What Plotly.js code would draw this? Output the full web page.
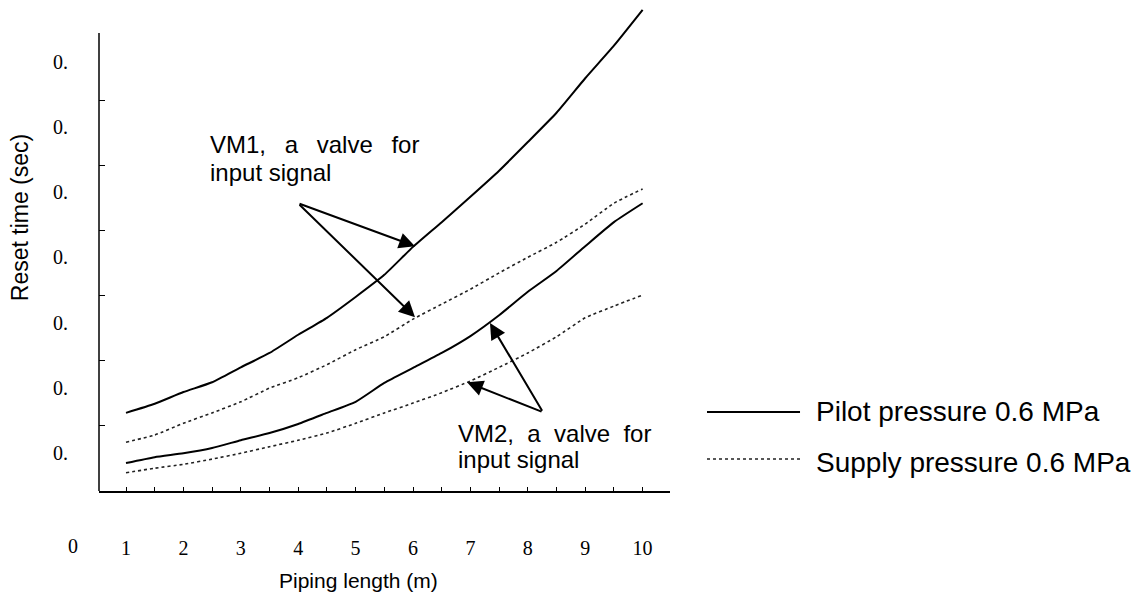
<!DOCTYPE html>
<html>
<head>
<meta charset="utf-8">
<script src="https://cdn.plot.ly/plotly-3.0.1.min.js"></script>
<style>html,body{margin:0;padding:0;background:#fff;}#chart{width:1144px;height:599px;}</style>
</head>
<body>
<div id="chart"></div>
<script>
// ---- data ----
const pipingLength = [1, 1.5, 2, 2.5, 3, 3.5, 4, 4.5, 5, 5.5, 6, 6.5, 7, 7.5, 8, 8.5, 9, 9.5, 10];
const vm1Pilot  = [0.120, 0.134, 0.152, 0.167, 0.190, 0.212, 0.240, 0.266, 0.298, 0.332, 0.375, 0.413, 0.452, 0.492, 0.536, 0.581, 0.634, 0.684, 0.739];
const vm1Supply = [0.075, 0.086, 0.104, 0.120, 0.137, 0.158, 0.174, 0.194, 0.217, 0.237, 0.264, 0.287, 0.310, 0.335, 0.359, 0.382, 0.410, 0.442, 0.464];
const vm2Pilot  = [0.043, 0.052, 0.058, 0.066, 0.078, 0.089, 0.103, 0.120, 0.137, 0.166, 0.189, 0.212, 0.238, 0.270, 0.306, 0.338, 0.376, 0.413, 0.442];
const vm2Supply = [0.028, 0.035, 0.041, 0.049, 0.058, 0.068, 0.078, 0.089, 0.104, 0.120, 0.135, 0.151, 0.169, 0.190, 0.212, 0.237, 0.266, 0.284, 0.301];

const xTickVals = [1, 2, 3, 4, 5, 6, 7, 8, 9, 10];
const xTickText = ['1', '2', '3', '4', '5', '6', '7', '8', '9', '10'];
const yTickVals = [0.1, 0.2, 0.3, 0.4, 0.5, 0.6];
const yLabelVals = [0.058, 0.158, 0.258, 0.359, 0.459, 0.559, 0.659];
const yLabelText = ['0.', '0.', '0.', '0.', '0.', '0.', '0.'];
const yZeroLabel = '0';
const yAxisTop = 0.7035;

const seriesNames = ['Pilot pressure 0.6 MPa', 'Supply pressure 0.6 MPa'];
const xTitle = 'Piping length (m)';
const yTitle = 'Reset time (sec)';
const vm1Label = ['VM1,\u00a0\u2002a\u00a0\u2002valve\u00a0\u2002for', 'input signal'];
const vm2Label = ['VM2,\u00a0\u00a0a\u00a0\u00a0valve\u00a0\u00a0for', 'input signal'];

// ---- styles ----
const SANS = 'Liberation Sans, Arial, sans-serif';
const SERIF = 'Liberation Serif, Times New Roman, serif';
const solid = {color: '#000', width: 2, dash: 'solid', shape: 'spline', smoothing: 0.5};
const dotted = {color: '#222', width: 1.6, dash: 'dot', shape: 'spline', smoothing: 0.5};

const traces = [
  {x: pipingLength, y: vm1Pilot, mode: 'lines', line: solid, showlegend: false, name: seriesNames[0]},
  {x: pipingLength, y: vm1Supply, mode: 'lines', line: dotted, showlegend: false, name: seriesNames[1]},
  {x: pipingLength, y: vm2Pilot, mode: 'lines', line: solid, showlegend: false, name: seriesNames[0]},
  {x: pipingLength, y: vm2Supply, mode: 'lines', line: dotted, showlegend: false, name: seriesNames[1]},
  // invisible trace to activate overlay axis carrying the "0." labels
  {x: [1], y: [0.1], yaxis: 'y2', mode: 'markers', marker: {opacity: 0}, showlegend: false, hoverinfo: 'skip'}
];

const arrowStyle = {showarrow: true, text: '', arrowhead: 2, arrowsize: 1.6, arrowwidth: 2, arrowcolor: '#000',
  axref: 'x', ayref: 'y', xref: 'x', yref: 'y', standoff: 0, startstandoff: 0};

const textAnn = (txt, x, y, size) => ({text: txt, x: x, y: y, xref: 'x', yref: 'y', showarrow: false,
  xanchor: 'left', yanchor: 'middle', borderpad: 0, font: {family: SANS, size: size, color: '#000'}});

const annotations = [
  // VM1 arrows
  Object.assign({}, arrowStyle, {x: 6.035, y: 0.376, ax: 3.997, ay: 0.442}),
  Object.assign({}, arrowStyle, {x: 6.035, y: 0.267, ax: 3.997, ay: 0.442}),
  // VM2 arrows
  Object.assign({}, arrowStyle, {x: 7.341, y: 0.258, ax: 8.265, ay: 0.121}),
  Object.assign({}, arrowStyle, {x: 6.941, y: 0.167, ax: 8.265, ay: 0.121}),
  textAnn(vm1Label[0], 2.446, 0.532, 24),
  textAnn(vm1Label[1], 2.446, 0.490, 24),
  textAnn(vm2Label[0], 6.767, 0.089, 24),
  textAnn(vm2Label[1], 6.767, 0.049, 24),
  // "0" label below axis
  {text: yZeroLabel, x: -0.0455, xref: 'paper', y: -0.1127, yref: 'paper', showarrow: false,
   xanchor: 'center', yanchor: 'middle', font: {family: SERIF, size: 20, color: '#000'}},
  // axis titles
  {text: yTitle, x: -0.138, y: 0.5594, xref: 'paper', yref: 'paper', showarrow: false, textangle: -90,
   xanchor: 'center', yanchor: 'middle', font: {family: SANS, size: 23, color: '#000'}},
  {text: xTitle, x: 0.455, y: -0.1824, xref: 'paper', yref: 'paper', showarrow: false,
   xanchor: 'center', yanchor: 'middle', font: {family: SANS, size: 21, color: '#000'}},
  // legend texts
  {text: seriesNames[0], x: 1.254, y: 0.1619, xref: 'paper', yref: 'paper', showarrow: false,
   xanchor: 'left', yanchor: 'middle', borderpad: 0, font: {family: SANS, size: 28, color: '#000'}},
  {text: seriesNames[1], x: 1.254, y: 0.0594, xref: 'paper', yref: 'paper', showarrow: false,
   xanchor: 'left', yanchor: 'middle', borderpad: 0, font: {family: SANS, size: 28, color: '#000'}}
];

const shapes = [
  // y axis line (stops below the plot top, as in the reference)
  {type: 'line', xref: 'paper', yref: 'y', x0: 0, x1: 0, y0: 0, y1: yAxisTop,
   line: {color: '#000', width: 1.5}},
  // legend samples
  {type: 'line', xref: 'paper', yref: 'paper', x0: 1.0648, x1: 1.2277, y0: 0.1619, y1: 0.1619,
   line: {color: '#000', width: 2}},
  {type: 'line', xref: 'paper', yref: 'paper', x0: 1.0648, x1: 1.2277, y0: 0.0656, y1: 0.0656,
   line: {color: '#222', width: 1.6, dash: 'dot'}}
];

const yRange = [0, 0.7496];

const layout = {
  width: 1144, height: 599,
  margin: {l: 99, r: 474, t: 3, b: 108, pad: 0},
  paper_bgcolor: '#fff', plot_bgcolor: '#fff',
  showlegend: false,
  xaxis: {
    range: [0.5296, 10.477], showline: true, linecolor: '#000', linewidth: 1.5,
    showgrid: false, zeroline: false, mirror: false,
    tickmode: 'array', tickvals: xTickVals, ticktext: xTickText,
    ticks: 'inside', ticklen: 4, tickwidth: 1, tickcolor: '#000',
    minor: {dtick: 0.5, tick0: 0.5, ticks: 'inside', ticklen: 4, tickwidth: 1, tickcolor: '#000', showgrid: false},
    ticklabelstandoff: 38,
    tickfont: {family: SERIF, size: 20, color: '#000'}
  },
  yaxis: {
    range: yRange, showline: false,
    showgrid: false, zeroline: false,
    tickmode: 'array', tickvals: yTickVals,
    ticks: 'inside', ticklen: 6, tickwidth: 1, tickcolor: '#000',
    showticklabels: false
  },
  yaxis2: {
    range: yRange, overlaying: 'y', side: 'left', showline: false, showgrid: false, zeroline: false,
    tickmode: 'array', tickvals: yLabelVals, ticktext: yLabelText, ticks: '',
    ticklabelstandoff: 30,
    tickfont: {family: SERIF, size: 20, color: '#000'}
  },
  annotations: annotations,
  shapes: shapes
};

Plotly.newPlot('chart', traces, layout, {staticPlot: true, displayModeBar: false});
</script>
</body>
</html>
